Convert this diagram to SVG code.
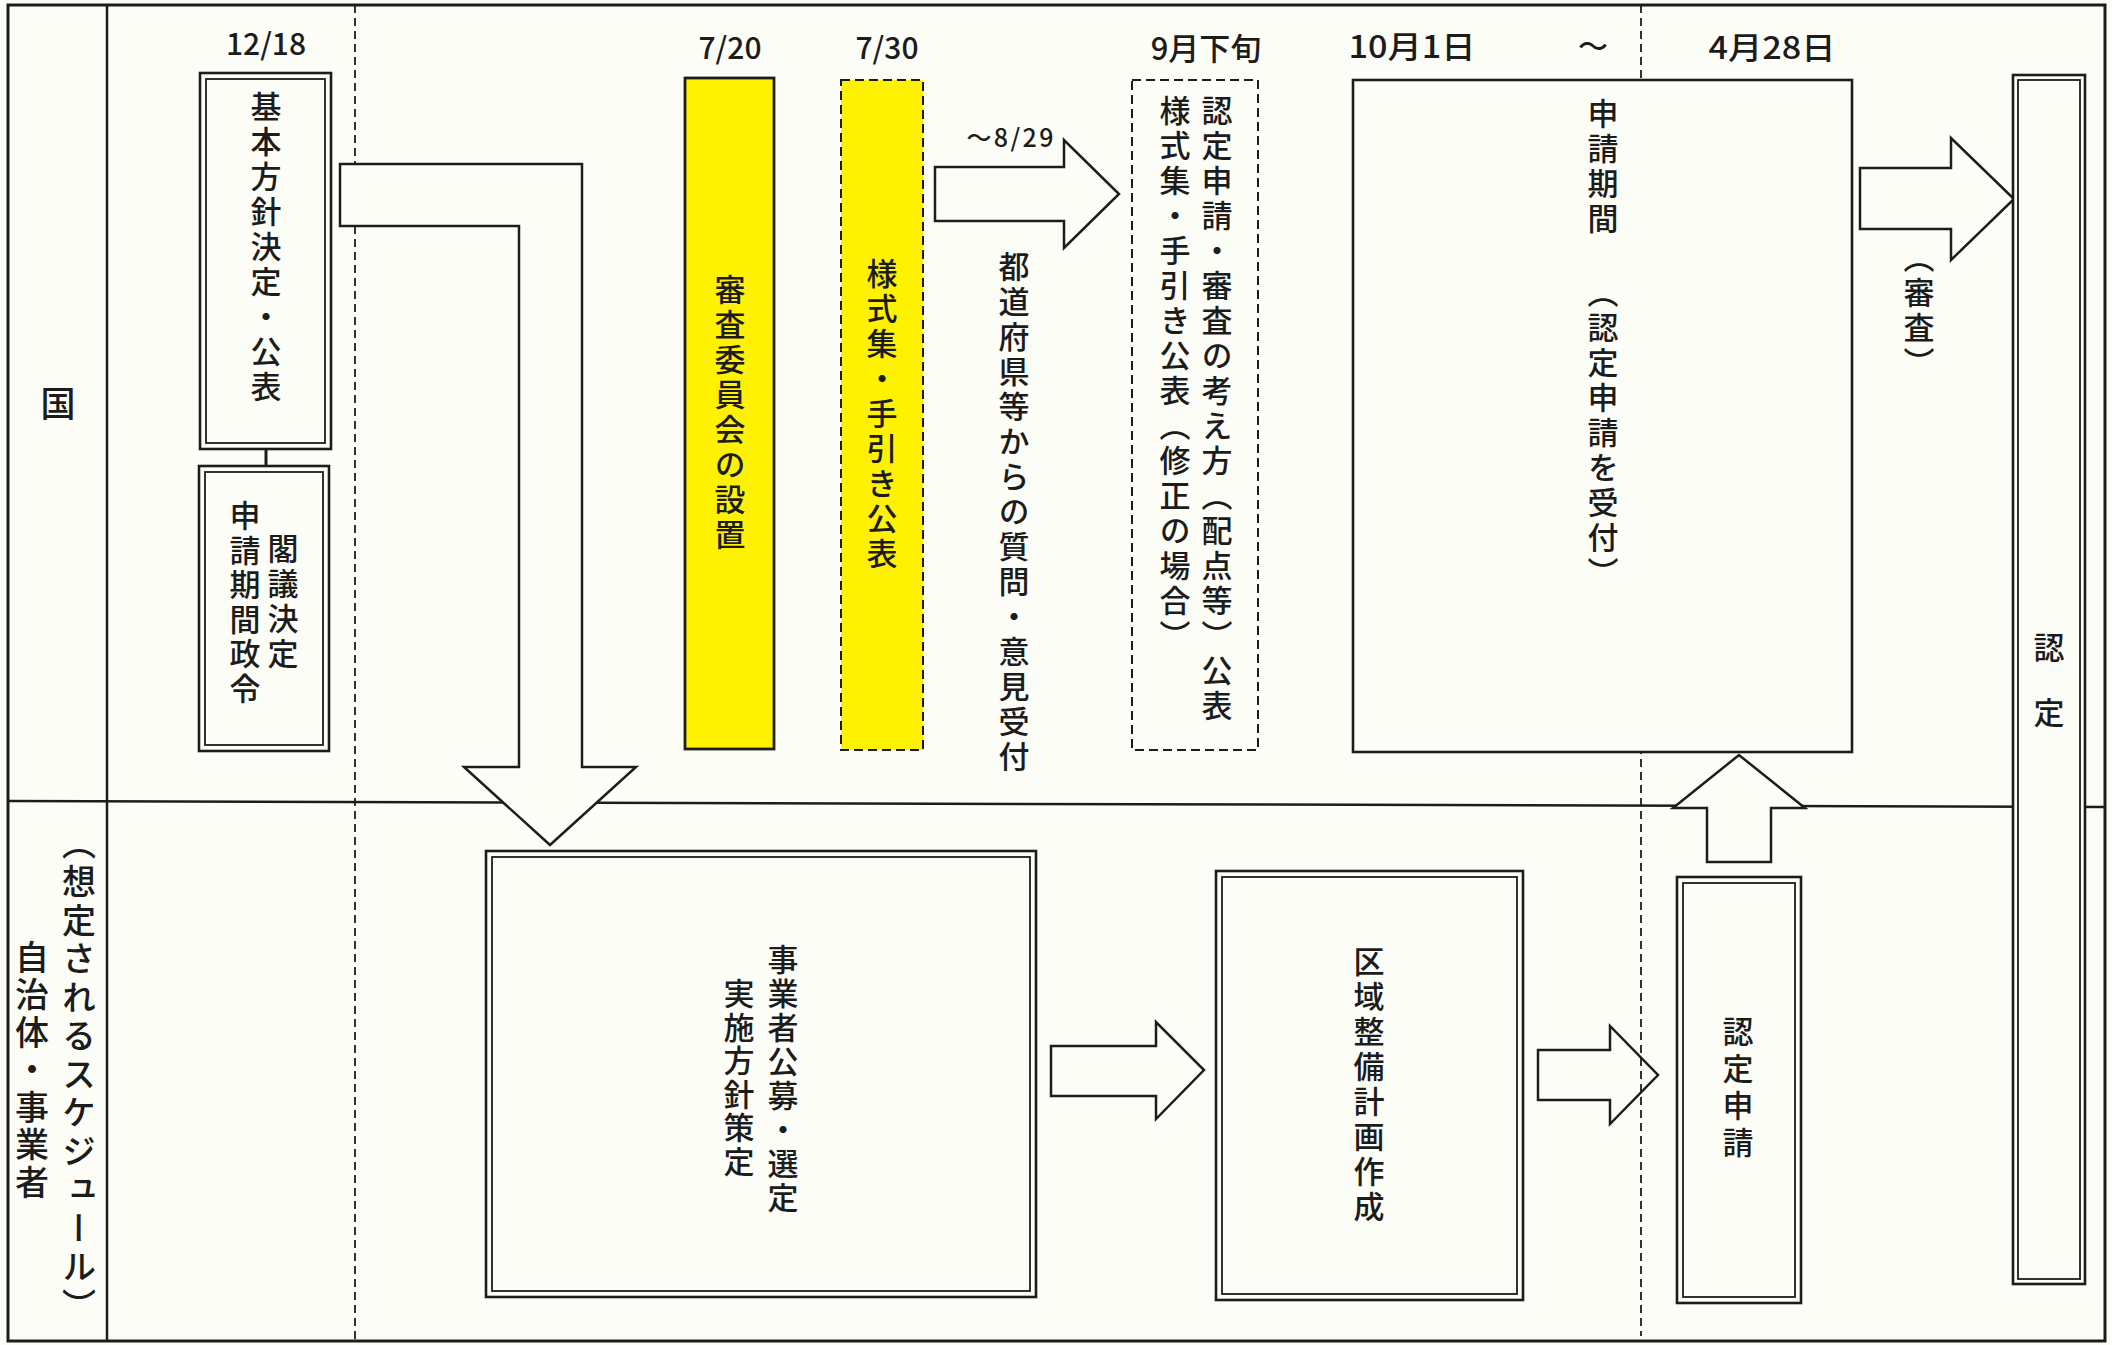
<svg xmlns="http://www.w3.org/2000/svg" width="2112" height="1345" viewBox="0 0 2112 1345">
<style>
.ln{stroke:#1c1c1c;fill:none;stroke-width:2.5}
.dash{stroke:#1c1c1c;fill:none;stroke-width:1.8;stroke-dasharray:8 5}
.box{fill:#fdfdf7;stroke:#1c1c1c;stroke-width:2.6}
.inner{fill:none;stroke:#1c1c1c;stroke-width:1.8}
.ybox{fill:#fff200;stroke:#1c1c1c;stroke-width:2.8}
.ydash{fill:#fff200;stroke:#1c1c1c;stroke-width:2;stroke-dasharray:9 5}
.wdash{fill:#fdfdf7;stroke:#1c1c1c;stroke-width:2;stroke-dasharray:9 5}
.arrow{fill:#fdfdf7;stroke:#1c1c1c;stroke-width:2.5;stroke-linejoin:miter}
.arrow-open{fill:none;stroke:#1c1c1c;stroke-width:2.5;stroke-linejoin:miter}
text{font-family:"Noto Sans CJK JP","Noto Sans CJK SC",sans-serif;fill:#1c1c1c;font-weight:500}
.d{font-size:30px;text-anchor:middle}
.v{writing-mode:vertical-rl;font-size:31px;letter-spacing:4px}
</style>
<rect x="0" y="0" width="2112" height="1345" fill="#fdfdf7"/>

<g id="frame">
<rect x="8" y="5" width="2097" height="1336" fill="none" stroke="#1c1c1c" stroke-width="3"/>
<line class="ln" x1="107" y1="5" x2="107" y2="1341"/>
<line class="ln" x1="8" y1="801" x2="2105" y2="807"/>
<line class="dash" x1="355" y1="5" x2="355" y2="1341"/>
<line class="dash" x1="1641" y1="5" x2="1641" y2="1336"/>
</g>

<g id="lanes">
<text x="58" y="417" font-size="35" text-anchor="middle">国</text>
<text class="v" x="79" y="826" style="font-size:34px;letter-spacing:4.5px">（想定されるスケジュール）</text>
<text class="v" x="32" y="940" style="font-size:34px;letter-spacing:3.5px">自治体・事業者</text>
</g>

<g id="dates">
<text class="d" x="266" y="55">12/18</text>
<text class="d" x="730" y="59">7/20</text>
<text class="d" x="887" y="59">7/30</text>
<text class="d" x="1206" y="60" style="font-size:31px">9月下旬</text>
<text class="d" x="1412" y="58" style="font-size:31px" textLength="127" lengthAdjust="spacingAndGlyphs">10月1日</text>
<text class="d" x="1593" y="57">～</text>
<text class="d" x="1772" y="59" style="font-size:31px" textLength="127" lengthAdjust="spacingAndGlyphs">4月28日</text>
</g>

<g id="connectors">
<line x1="266" y1="449" x2="266" y2="466" stroke="#1c1c1c" stroke-width="3"/>
<path class="arrow" d="M340,164 L582,164 L582,767 L636,767 L550,845 L464,767 L519,767 L519,226 L340,226 Z"/>
<path class="arrow" d="M935,167 L1064,167 L1064,140 L1119,194 L1064,248 L1064,221 L935,221 Z"/>
<text x="1010" y="147" font-size="25" text-anchor="middle" textLength="87">～8/29</text>
<path class="arrow" d="M1860,168 L1951,168 L1951,138 L2014,199 L1951,260 L1951,229 L1860,229 Z"/>
<text class="v" x="1919" y="242">（審査）</text>
<path class="arrow" d="M1051,1046 L1156,1046 L1156,1022 L1204,1070 L1156,1119 L1156,1096 L1051,1096 Z"/>
<path class="arrow-open" d="M1538,1050 L1610,1050 L1610,1026 L1658,1075 L1610,1124 L1610,1100 L1538,1100 Z"/>
<path class="arrow" d="M1707,862 L1707,808 L1673,808 L1739,755 L1805,808 L1771,808 L1771,862 Z"/>
<text class="v" x="1014" y="251">都道府県等からの質問・意見受付</text>
</g>

<g id="node-kihon">
<rect class="box" x="200" y="73" width="131" height="376"/>
<rect class="inner" x="206" y="79" width="119" height="364"/>
<text class="v" x="266" y="91">基本方針決定・公表</text>
</g>

<g id="node-kakugi">
<rect class="box" x="199" y="466" width="130" height="285"/>
<rect class="inner" x="205" y="472" width="118" height="273"/>
<text class="v" x="283" y="533">閣議決定</text>
<text class="v" x="245" y="500" style="letter-spacing:3.5px">申請期間政令</text>
</g>

<g id="node-shinsa-iinkai">
<rect class="ybox" x="685" y="78" width="89" height="671"/>
<text class="v" x="730" y="274">審査委員会の設置</text>
</g>

<g id="node-yoshiki">
<rect class="ydash" x="841" y="80" width="82" height="670"/>
<text class="v" x="882" y="258">様式集・手引き公表</text>
</g>

<g id="node-nintei-koho">
<rect class="wdash" x="1132" y="80" width="126" height="670"/>
<text class="v" x="1217" y="95">認定申請・審査の考え方（配点等）公表</text>
<text class="v" x="1175" y="95">様式集・手引き公表（修正の場合）</text>
</g>

<g id="node-shinsei-kikan">
<rect class="box" x="1353" y="80" width="499" height="672"/>
<text class="v" x="1603" y="98">申請期間</text>
<text class="v" x="1603" y="277">（認定申請を受付）</text>
</g>

<g id="node-nintei">
<rect class="box" x="2013" y="75" width="72" height="1209"/>
<rect class="inner" x="2018" y="80" width="62" height="1199"/>
<text class="v" x="2049" y="632" style="letter-spacing:34px">認定</text>
</g>

<g id="node-jigyosha">
<rect class="box" x="486" y="851" width="550" height="446"/>
<rect class="inner" x="492" y="857" width="538" height="434"/>
<text class="v" x="783" y="944" style="letter-spacing:3px">事業者公募・選定</text>
<text class="v" x="739" y="978" style="letter-spacing:2.5px">実施方針策定</text>
</g>

<g id="node-kuiki">
<rect class="box" x="1216" y="871" width="307" height="429"/>
<rect class="inner" x="1222" y="877" width="295" height="417"/>
<text class="v" x="1369" y="946">区域整備計画作成</text>
</g>

<g id="node-nintei-shinsei">
<rect class="box" x="1677" y="877" width="124" height="426"/>
<rect class="inner" x="1683" y="883" width="112" height="414"/>
<text class="v" x="1738" y="1016" style="letter-spacing:6px">認定申請</text>
</g>
</svg>
